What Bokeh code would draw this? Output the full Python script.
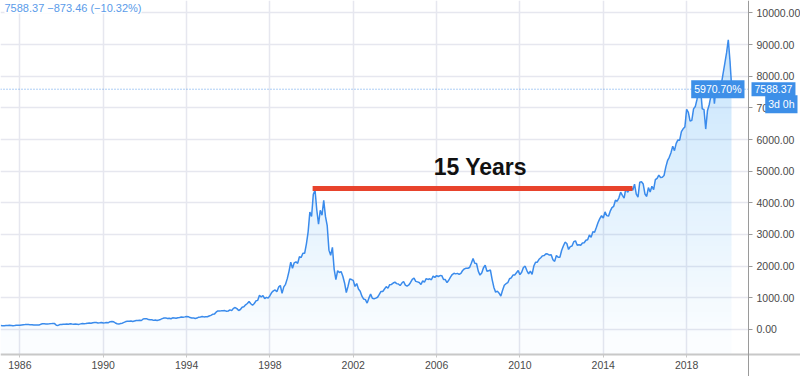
import numpy as np
from bokeh.plotting import figure
from bokeh.models import FixedTicker, Label, Range1d, NumeralTickFormatter, LinearAxis
from bokeh.core.properties import value
from bokeh.embed import file_html
from bokeh.resources import INLINE

# ---------------- data (monthly closes, first point = Feb 1985) ----------------
start_year = 1985
start_month = 2

closes_1985_1989 = [
    124, 121, 121, 126, 127, 130, 127, 118, 124, 134, 132,
    135, 145, 152, 155, 160, 160, 146, 151, 140, 144, 143, 141,
    163, 180, 180, 176, 176, 179, 185, 190, 186, 135, 128, 156,
    158, 168, 166, 170, 164, 178, 171, 165, 170, 166, 161, 177,
    186, 183, 186, 197, 208, 196, 212, 219, 220, 207, 211, 223,
]
closes_1990_1999 = [
    203, 210, 219, 214, 246, 252, 241, 206, 180, 170, 189, 200,
    226, 250, 263, 258, 270, 252, 268, 283, 284, 291, 283, 330,
    343, 342, 314, 305, 307, 288, 300, 287, 300, 318, 343, 360,
    366, 346, 357, 338, 367, 364, 353, 370, 379, 393, 386, 398,
    412, 405, 376, 360, 366, 346, 360, 388, 395, 412, 398, 404,
    403, 426, 447, 478, 485, 545, 585, 583, 588, 594, 596, 576,
    584, 618, 597, 667, 693, 659, 600, 631, 703, 715, 778, 821,
    885, 812, 766, 821, 906, 920, 1078, 1028, 1070, 976, 1013, 990,
    1066, 1166, 1220, 1250, 1190, 1337, 1390, 1140, 1345, 1426, 1606, 1836,
    2127, 1933, 2106, 2136, 2090, 2296, 2275, 2409, 2407, 2697, 3075, 3708,
]
closes_2000_2009 = [
    3570, 4267, 4398, 3773, 3324, 3763, 3609, 4077, 3570, 3282, 2506, 2341,
    2593, 1908, 1573, 1855, 1799, 1830, 1683, 1469, 1168, 1364, 1596, 1577,
    1550, 1359, 1452, 1277, 1208, 1051, 962, 942, 833, 989, 1116, 984,
    967, 989, 1018, 1106, 1201, 1201, 1277, 1352, 1303, 1415, 1424, 1467,
    1494, 1448, 1438, 1387, 1466, 1516, 1401, 1369, 1406, 1485, 1583, 1621,
    1519, 1503, 1483, 1420, 1533, 1493, 1605, 1581, 1601, 1571, 1686, 1645,
    1701, 1673, 1704, 1701, 1578, 1575, 1482, 1555, 1654, 1736, 1774, 1756,
    1772, 1739, 1772, 1863, 1914, 1934, 1932, 1956, 2091, 2238, 2090, 2084,
    1842, 1718, 1781, 1950, 2029, 1837, 1857, 1877, 1575, 1329, 1180, 1212,
    1147, 1057, 1237, 1395, 1446, 1478, 1602, 1631, 1718, 1720, 1791, 1860,
]
closes_2010_2020 = [
    1731, 1807, 1957, 2000, 1860, 1755, 1842, 1738, 2003, 2124, 2127, 2217,
    2265, 2325, 2337, 2395, 2382, 2350, 2357, 2205, 2151, 2336, 2283, 2278,
    2493, 2637, 2756, 2716, 2527, 2616, 2637, 2773, 2799, 2659, 2677, 2660,
    2731, 2738, 2819, 2835, 2987, 2909, 3085, 3074, 3218, 3378, 3500, 3592,
    3521, 3713, 3596, 3580, 3736, 3850, 3890, 4082, 4050, 4158, 4335, 4236,
    4151, 4455, 4334, 4415, 4508, 4397, 4588, 4274, 4181, 4648, 4665, 4593,
    4280, 4201, 4483, 4341, 4524, 4418, 4730, 4772, 4875, 4801, 4810, 4863,
    5127, 5330, 5436, 5584, 5788, 5647, 5880, 5988, 5980, 6248, 6337, 6396,
    6950, 6854, 6581, 6605, 6967, 7040, 7272, 7660, 7627, 6967, 6949, 6330,
    6906, 7097, 7378, 7781, 7128, 7671, 7848, 7692, 7750, 8083, 8403, 8733,
    9151, 8462, 7588.37,
]

last_price = 7588.37
change = -873.46
change_pct = -10.32
total_return_pct = 5970.70
time_left = "3d 0h"

x_ticks = [1986, 1990, 1994, 1998, 2002, 2006, 2010, 2014, 2018]
x_tick_labels = ["1986", "1990", "1994", "1998", "2002", "2006", "2010", "2014", "2018"]
y_ticks = [0, 1000, 2000, 3000, 4000, 5000, 6000, 7000, 8000, 9000, 10000]

# annotation: the 15-year span from the 2000 peak to its recovery
span_start = 2000.05
span_end = 2015.4
span_level = 4450
span_label = "15 Years"
span_label_x = 2008.1

# ---------------- layout constants ----------------
W, H = 800, 376
AX_PX, AY_PX = 748, 354          # pixel position of price scale / time scale
X0, X_AX = 1985.07, 2020.97      # data x at left edge / at price scale
Y_TOP, Y_AX = 10390, -790        # data y at top edge / at time scale
X_END = X0 + (X_AX - X0) * W / AX_PX
Y_END = Y_TOP - (Y_TOP - Y_AX) * H / AY_PX

# ---------------- derived ----------------
closes = np.array(closes_1985_1989 + closes_1990_1999 + closes_2000_2009 + closes_2010_2020, dtype=float)
months = np.arange(len(closes)) + (start_month - 1)
xs = start_year + months / 12.0

p = figure(width=W, height=H, x_range=Range1d(X0, X_END), y_range=Range1d(Y_END, Y_TOP),
           x_axis_location=None, y_axis_location=None,
           output_backend="svg", toolbar_location=None,
           min_border_left=0, min_border_top=0, min_border_right=0, min_border_bottom=0)
p.outline_line_color = None
p.background_fill_color = "white"
p.border_fill_color = "white"

# axes drawn at fixed positions inside the canvas
xaxis = LinearAxis(fixed_location=Y_AX, ticker=FixedTicker(ticks=x_ticks),
                   major_label_overrides={t: l for t, l in zip(x_ticks, x_tick_labels)})
yaxis = LinearAxis(fixed_location=X_AX, ticker=FixedTicker(ticks=y_ticks),
                   formatter=NumeralTickFormatter(format="0.00"))
for ax in (xaxis, yaxis):
    ax.minor_tick_line_color = None
    ax.major_tick_in = 0
    ax.major_label_text_font = "Liberation Sans"
    ax.major_label_text_font_size = "10.5px"
    ax.major_label_text_color = "#4a4a4a"
xaxis.axis_line_color = "#c8c8c8"
xaxis.axis_line_width = 2
xaxis.major_tick_line_color = "#c8c8c8"
xaxis.major_tick_out = 3
xaxis.major_label_standoff = 3
yaxis.axis_line_color = "#9a9a9a"
yaxis.major_tick_line_color = "#9a9a9a"
yaxis.major_tick_out = 4
yaxis.major_label_standoff = 4
p.add_layout(xaxis, "below")
p.add_layout(yaxis, "right")

# grid (underlay) on the same ticks
p.xgrid.ticker = FixedTicker(ticks=x_ticks)
p.ygrid.ticker = FixedTicker(ticks=y_ticks)
for g in (p.xgrid, p.ygrid):
    g.grid_line_color = "#e6e7ef"
    g.grid_line_width = 1.5

# white masks: keep the grid inside the chart pane
p.quad(left=[X_AX, X0], right=[X_END, X_END], bottom=[Y_END, Y_END], top=[Y_TOP, Y_AX],
       fill_color="white", line_color=None)

# translucent gradient area under the curve, rasterised per pixel column
ncols, nrows = AX_PX, AY_PX
cx = X0 + (np.arange(ncols) + 0.5) * (X_AX - X0) / ncols
ry = Y_AX + (np.arange(nrows) + 0.5) * (Y_TOP - Y_AX) / nrows
curve = np.interp(cx, xs, closes, left=np.nan, right=np.nan)
grad = np.clip(0.03 + 0.0245 * ry / 1000.0, 0.02, 0.30)
row_h = (Y_TOP - Y_AX) / nrows
cover = np.clip((curve[None, :] - (ry[:, None] - row_h / 2)) / row_h, 0, 1)
cover = np.nan_to_num(cover)
a = grad[:, None] * cover
img = np.empty((nrows, ncols), dtype=np.uint32)
view = img.view(dtype=np.uint8).reshape((nrows, ncols, 4))
view[:, :, 0] = 33
view[:, :, 1] = 150
view[:, :, 2] = 243
view[:, :, 3] = (a * 255).astype(np.uint8)
p.image_rgba(image=[img], x=X0, y=Y_AX, dw=X_AX - X0, dh=Y_TOP - Y_AX)

# price line
p.line(xs, closes, line_color="#3a8bec", line_width=1.5)

# dotted last-price line
p.segment(x0=[X0], y0=[last_price], x1=[X_AX], y1=[last_price],
          line_color="#5b9bea", line_dash="1 2", line_width=1)

# red 15-year bar and label
p.segment(x0=[span_start], y0=[span_level], x1=[span_end], y1=[span_level],
          line_color="#e8432c", line_width=5)
p.text(x=[span_label_x], y=[span_level], text=[span_label],
       text_font=value("Liberation Sans"), text_font_style="bold",
       text_font_size="23px", text_color="#111111",
       text_align="center", text_baseline="bottom", y_offset=-9)

# header
p.add_layout(Label(x=X0, y=Y_TOP, x_offset=4, y_offset=-7,
                   text=f"{last_price:.2f} \u2212{abs(change):.2f} (\u2212{abs(change_pct):.2f}%)",
                   text_font="Liberation Sans", text_font_size="11px", text_color="#5a9be9",
                   text_baseline="middle", text_align="left",
                   background_fill_color="white"))

# badges
badge_color = "#3d8fe8"
badge_kw = dict(text_font="Liberation Sans", text_font_size="10.5px", text_color="white",
                text_baseline="middle", background_fill_color=badge_color, padding=3)
p.add_layout(Label(x=X_AX, y=last_price, x_offset=-4, text=f"{total_return_pct:.2f}%",
                   text_align="right", **badge_kw))
p.add_layout(Label(x=X_AX, y=last_price, x_offset=3, text=f"{last_price:.2f}",
                   text_align="left", **badge_kw))
p.add_layout(Label(x=X_AX, y=last_price, x_offset=49, y_offset=-15, text=time_left,
                   text_align="right", **badge_kw))

open("out.html", "w").write(file_html(p, INLINE))
